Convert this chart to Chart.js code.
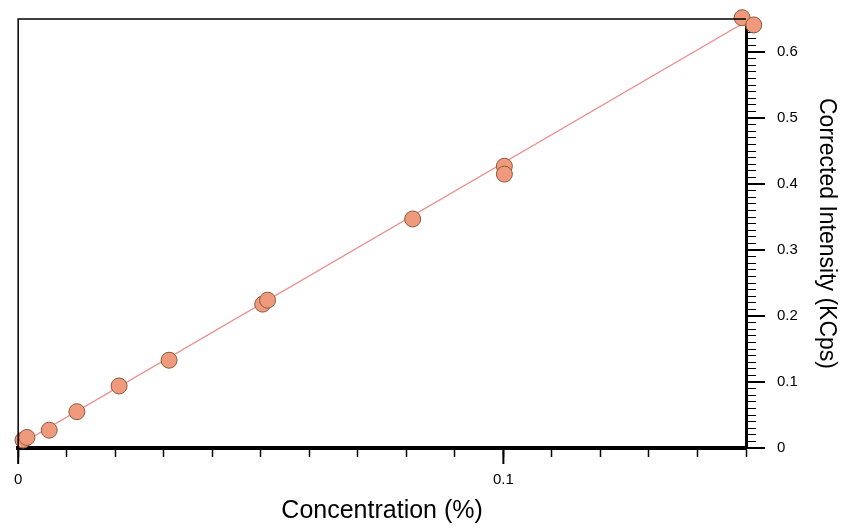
<!DOCTYPE html>
<html>
<head>
<meta charset="utf-8">
<style>
  html, body { margin: 0; padding: 0; background: #fff; }
  #wrap { width: 846px; height: 529px; }
</style>
<script src="https://cdn.jsdelivr.net/npm/chart.js@4/dist/chart.umd.min.js"></script>
</head>
<body>
<div id="wrap"><canvas id="calChart" width="846" height="529"></canvas></div>
<script>
// calibration standards
const concentration = [0.0010, 0.0018, 0.0064, 0.0121, 0.0208, 0.0311, 0.0504, 0.0514, 0.0813, 0.1002, 0.1002, 0.1492, 0.1516];
const intensity     = [0.012, 0.016, 0.027, 0.055, 0.094, 0.133, 0.218, 0.224, 0.347, 0.427, 0.415, 0.652, 0.641];
// fitted calibration line, end points
const fitX = [0, 0.15];
const fitY = [0.004, 0.646];

const xLabels = { 0: '0', 10: '0.1' };
const yLabels = { 0: '0', 10: '0.1', 20: '0.2', 30: '0.3', 40: '0.4', 50: '0.5', 60: '0.6' };

const FONT = '"Liberation Sans", Arial, sans-serif';

// thin frame on the left and top of the plot, plus longer major ticks
const frame = {
    id: 'frame',
    afterDraw(chart) {
        const { ctx, chartArea: a, scales } = chart;
        ctx.save();
        ctx.strokeStyle = '#000';
        ctx.lineWidth = 1.5;
        ctx.beginPath();
        ctx.moveTo(a.left, a.bottom);
        ctx.lineTo(a.left, a.top);
        ctx.lineTo(a.right, a.top);
        ctx.stroke();

        ctx.lineWidth = 2;
        ctx.beginPath();
        Object.keys(xLabels).forEach(k => {
            const px = scales.x.getPixelForValue(k / 100);
            ctx.moveTo(px, a.bottom);
            ctx.lineTo(px, a.bottom + 16);
        });
        Object.keys(yLabels).forEach(k => {
            const py = scales.y.getPixelForValue(k / 100);
            ctx.moveTo(a.right, py);
            ctx.lineTo(a.right + 19, py);
        });
        ctx.stroke();
        ctx.restore();
    }
};

const ctx = document.getElementById('calChart').getContext('2d');

new Chart(ctx, {
    type: 'scatter',
    data: {
        datasets: [{
            label: 'Standards',
            data: concentration.map((c, i) => ({ x: c, y: intensity[i] })),
            backgroundColor: '#ef9a7c',
            borderColor: '#8a5a3e',
            borderWidth: 1,
            pointRadius: 8,
            clip: false,
            order: 1
        }, {
            label: 'Fit',
            type: 'line',
            data: fitX.map((c, i) => ({ x: c, y: fitY[i] })),
            borderColor: '#ee8c8c',
            borderWidth: 1.2,
            pointRadius: 0,
            fill: false,
            order: 2
        }]
    },
    options: {
        responsive: false,
        animation: false,
        layout: { padding: { left: 16, top: 19, right: 6, bottom: 3 } },
        plugins: {
            legend: { display: false },
            tooltip: { enabled: false }
        },
        scales: {
            x: {
                type: 'linear',
                min: 0,
                max: 0.15,
                grid: {
                    drawOnChartArea: false,
                    tickLength: 9,
                    tickColor: '#000',
                    tickWidth: 1.5
                },
                border: { display: true, color: '#000', width: 4 },
                ticks: {
                    stepSize: 0.01,
                    autoSkip: false,
                    maxRotation: 0,
                    color: '#000',
                    padding: 14,
                    font: { family: FONT, size: 15 },
                    callback: (v) => xLabels[Math.round(v * 100)] || ''
                },
                title: {
                    display: true,
                    text: 'Concentration (%)',
                    color: '#000',
                    font: { family: FONT, size: 25 },
                    padding: { top: 0, bottom: 0 }
                },
                afterFit: (s) => { s.height = 78; }
            },
            y: {
                type: 'linear',
                position: 'right',
                min: 0,
                max: 0.65,
                grid: {
                    drawOnChartArea: false,
                    tickLength: 10,
                    tickColor: '#000',
                    tickWidth: 1
                },
                border: { display: true, color: '#000', width: 3 },
                ticks: {
                    stepSize: 0.01,
                    autoSkip: false,
                    color: '#000',
                    padding: 21,
                    font: { family: FONT, size: 15 },
                    callback: (v) => yLabels[Math.round(v * 100)] || ''
                },
                title: {
                    display: true,
                    text: 'Corrected Intensity (KCps)',
                    color: '#000',
                    font: { family: FONT, size: 23 },
                    padding: { top: 0, bottom: 2 }
                },
                afterFit: (s) => {
                    s.width = 94;
                    s.paddingTop = 0;
                    s.paddingBottom = 0;
                }
            }
        }
    },
    plugins: [frame]
});
</script>
</body>
</html>
